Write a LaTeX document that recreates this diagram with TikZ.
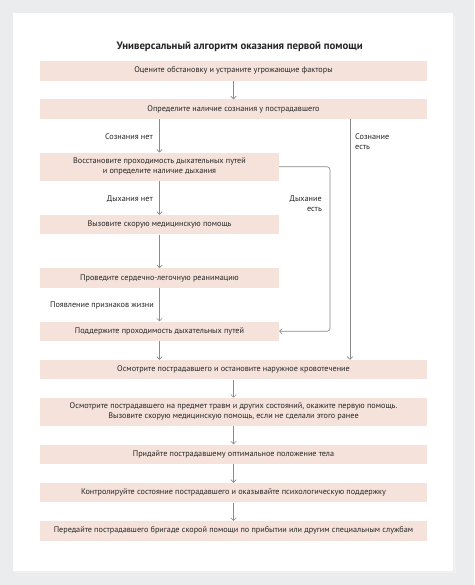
\documentclass[tikz,border=0pt]{standalone}
\usepackage{fontspec}
\setmainfont{PT Sans}
\usetikzlibrary{arrows.meta}
\definecolor{bgc}{HTML}{EBECEE}
\definecolor{boxc}{HTML}{F5E2DA}
\definecolor{linec}{HTML}{8A8A8A}
\definecolor{txtc}{HTML}{262626}
\tikzset{
  box/.style={fill=boxc, draw=none, inner sep=0pt, align=center, text=txtc,
    font=\fontsize{8.2}{9.8}\selectfont, minimum height=19.5pt},
  wide/.style={box, minimum width=387pt},
  narrow/.style={box, minimum width=239pt},
  conn/.style={draw=linec, line width=0.65pt, -{Straight Barb[length=2.6pt,width=5.5pt]}},
  lab/.style={text=txtc, font=\fontsize{8.2}{9.8}\selectfont, inner sep=0pt},
}
\begin{document}
\begin{tikzpicture}[x=1pt,y=-1pt]
\useasboundingbox (0,0) rectangle (474,585);
\fill[bgc] (0,0) rectangle (474,585);
\fill[black!6] (15,16) rectangle (456,573);
\fill[white] (13,13.5) rectangle (453,570.5);

\node[text=txtc, font=\bfseries\fontsize{10.8}{12}\selectfont, inner sep=0pt] (title) at (239.7,46.7) {Универсальный алгоритм оказания первой помощи};

\node[wide] (b1) at (233.5,70.8) {Оцените обстановку и устраните угрожающие факторы};
\node[wide] (b2) at (233.5,109.2) {Определите наличие сознания у пострадавшего};
\node[narrow, minimum height=28pt] (b3) at (159.5,166.7) {Восстановите проходимость дыхательных путей\\и определите наличие дыхания};
\node[narrow] (b4) at (159.5,224.7) {Вызовите скорую медицинскую помощь};
\node[narrow] (b5) at (159.5,278) {Проведите сердечно-легочную реанимацию};
\node[narrow] (b6) at (159.5,331.3) {Поддержите проходимость дыхательных путей};
\node[wide] (b7) at (233.5,369.7) {Осмотрите пострадавшего и остановите наружное кровотечение};
\node[wide, minimum height=28pt] (b8) at (233.5,411.8) {Осмотрите пострадавшего на предмет травм и других состояний, окажите первую помощь.\\Вызовите скорую медицинскую помощь, если не сделали этого ранее};
\node[wide] (b9) at (233.5,454.3) {Придайте пострадавшему оптимальное положение тела};
\node[wide] (b10) at (233.5,492.7) {Контролируйте состояние пострадавшего и оказывайте психологическую поддержку};
\node[wide] (b11) at (233.5,530.8) {Передайте пострадавшего бригаде скорой помощи по прибытии или другим специальным службам};

\coordinate (rx) at (350,0);
\coordinate (mx) at (330,0);

\draw[conn] (b1) -- (b2);
\draw[conn] (b2.south -| b3) -- (b3.north);
\draw[conn] (b2.south -| rx) -- (b7.north -| rx);
\draw[conn] (b3) -- (b4);
\draw[conn] (b4) -- (b5);
\draw[conn] (b5) -- (b6);
\draw[conn] (b6.south) -- (b7.north -| b6);
\draw[conn, rounded corners=3pt] (b3.east) -- (b3.east -| mx) -- (b6.east -| mx) -- (b6.east);
\draw[conn] (b7) -- (b8);
\draw[conn] (b8) -- (b9);
\draw[conn] (b9) -- (b10);
\draw[conn] (b10) -- (b11);

\node[lab, anchor=east] (l1) at (153,137) {Сознания нет};
\node[lab, anchor=west, align=left] (l2) at (355,142) {Сознание\\есть};
\node[lab, anchor=east] (l3) at (153,198.7) {Дыхания нет};
\node[lab, anchor=east, align=right] (l4) at (322,204) {Дыхание\\есть};
\node[lab, anchor=east] (l5) at (154,305) {Появление признаков жизни};
\end{tikzpicture}
\end{document}
